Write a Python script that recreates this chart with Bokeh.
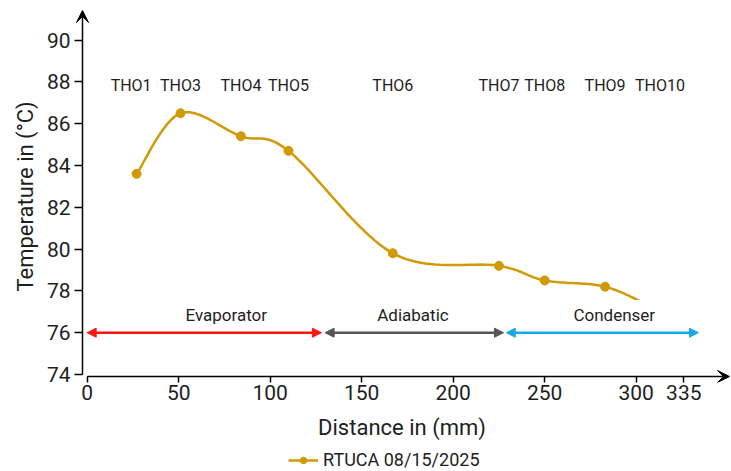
import numpy as np
from bokeh.plotting import figure
from bokeh.layouts import column
from bokeh.models import (Range1d, FixedTicker, Arrow, VeeHead, NormalHead, Label,
                          Legend, LegendItem, ColumnDataSource)
from bokeh.core.properties import value
from bokeh.embed import file_html
from bokeh.resources import INLINE

# ---------------- data ----------------
distance_mm = [27, 51, 84, 110, 167, 225, 250, 283, 309]
temperature_c = [83.6, 86.5, 85.4, 84.7, 79.8, 79.2, 78.5, 78.2, 77.2]
series_name = "RTUCA 08/15/2025"

sensor_names = ["THO1", "THO3", "THO4", "THO5", "THO6", "THO7", "THO8", "THO9", "THO10"]
sensor_label_x = [24, 51, 84, 110, 167, 225, 250, 283, 313]

zone_names = ["Evaporator", "Adiabatic", "Condenser"]
zone_start = [0, 130, 229]
zone_end = [128, 227.5, 334]
zone_label_x = [76, 178, 288]
zone_colors = ["#ff1414", "#555555", "#18a8e8"]

x_tick_values = [0, 50, 100, 150, 200, 250, 300, 326]
x_tick_labels = ["0", "50", "100", "150", "200", "250", "300", "335"]
y_tick_values = [74, 76, 78, 80, 82, 84, 86, 88, 90]

FONT = "Roboto"
GOLD = "#d09a06"
TXT = "#1e1e1e"

# ---------------- figure ----------------
X0, X1 = -6.94, 350.98      # frame extent (x)
Y0, Y1 = 73.617, 91.416     # frame extent (y)
XAX, YAX = -2.57, 73.904    # where the drawn axis lines sit
p = figure(width=731, height=449, x_range=Range1d(X0, X1), y_range=Range1d(Y0, Y1),
           output_backend="svg", toolbar_location=None,
           min_border_left=74, min_border_right=2, min_border_top=10, min_border_bottom=67)
p.outline_line_color = None
p.grid.visible = False
p.background_fill_color = "white"

# axes: Bokeh axes give ticks / labels / titles, lines are drawn as arrows
xa = p.xaxis[0]
xa.ticker = FixedTicker(ticks=x_tick_values)
xa.major_label_overrides = {v: s for v, s in zip(x_tick_values, x_tick_labels)}
xa.minor_tick_line_color = None
xa.major_tick_in = 6
xa.major_tick_out = 0
xa.major_label_standoff = 2
xa.axis_label = "Distance in (mm)"
xa.axis_label_standoff = 12

ya = p.yaxis[0]
ya.ticker = FixedTicker(ticks=y_tick_values)
ya.minor_tick_line_color = None
ya.major_tick_in = 8
ya.major_tick_out = 0
ya.major_label_standoff = 4
ya.axis_label = "Temperature in (\u00b0C)"
ya.axis_label_standoff = 6

for ax in (xa, ya):
    ax.axis_line_color = None
    ax.major_tick_line_color = "black"
    ax.major_tick_line_width = 1.5
    ax.major_label_text_font = FONT
    ax.major_label_text_font_size = "21px"
    ax.major_label_text_color = TXT
    ax.axis_label_text_font = FONT
    ax.axis_label_text_font_size = "22px"
    ax.axis_label_text_font_style = "normal"
    ax.axis_label_text_color = TXT

# axis lines with arrowheads
p.add_layout(Arrow(end=VeeHead(size=12, fill_color="black", line_color="black"),
                   x_start=0, y_start=YAX, x_end=X1, y_end=YAX,
                   line_color="black", line_width=1.5))
p.add_layout(Arrow(end=VeeHead(size=12, fill_color="black", line_color="black"),
                   x_start=XAX, y_start=y_tick_values[0], x_end=XAX, y_end=Y1,
                   line_color="black", line_width=1.5))

# ---------------- smooth curve through data ----------------
def catmull_rom(xs, ys, n=24):
    P = np.column_stack([xs, ys]).astype(float)
    P = np.vstack([P[0], P, P[-1]])
    out = []
    for i in range(1, len(P) - 2):
        p0, p1, p2, p3 = P[i - 1], P[i], P[i + 1], P[i + 2]
        t = np.linspace(0, 1, n, endpoint=(i == len(P) - 3))[:, None]
        seg = 0.5 * ((2 * p1) + (-p0 + p2) * t + (2 * p0 - 5 * p1 + 4 * p2 - p3) * t ** 2
                     + (-p0 + 3 * p1 - 3 * p2 + p3) * t ** 3)
        out.append(seg)
    out = np.vstack(out)
    return out[:, 0], out[:, 1]

cx, cy = catmull_rom(distance_mm, temperature_c)
line_r = p.line(cx, cy, line_color=GOLD, line_width=2.5)
pts_r = p.scatter(distance_mm, temperature_c, size=9, marker="circle",
                  fill_color=GOLD, line_color=GOLD)

# ---------------- sensor names ----------------
src = ColumnDataSource(dict(x=sensor_label_x, y=[87.85] * len(sensor_names), t=sensor_names))
p.text(x="x", y="y", text="t", source=src, text_font=value(FONT), text_font_size="16px",
       text_color=TXT, text_align="center", text_baseline="middle")

# ---------------- zone arrows + labels ----------------
for name, xs, xe, lx, col in zip(zone_names, zone_start, zone_end, zone_label_x, zone_colors):
    p.add_layout(Arrow(start=NormalHead(size=9, fill_color=col, line_color=col),
                       end=NormalHead(size=9, fill_color=col, line_color=col),
                       x_start=xs, y_start=76, x_end=xe, y_end=76,
                       line_color=col, line_width=2.5))
    p.add_layout(Label(x=lx, y=76.85, text=name, text_font=FONT, text_font_size="17px",
                       text_color=TXT, text_align="center", text_baseline="middle",
                       background_fill_color="white", background_fill_alpha=1.0,
                       padding=5))

# ---------------- legend strip (same series, legend only) ----------------
lf = figure(width=731, height=22, x_range=Range1d(-10, -9), y_range=Range1d(0, 1),
            output_backend="svg", toolbar_location=None,
            x_axis_type=None, y_axis_type=None, min_border=0)
lf.outline_line_color = None
lf.grid.visible = False
leg_line = lf.line(distance_mm, temperature_c, line_color=GOLD, line_width=2.5)
leg_pts = lf.scatter(distance_mm, temperature_c, size=9, marker="circle",
                     fill_color=GOLD, line_color=GOLD)
legend = Legend(items=[LegendItem(label=series_name, renderers=[leg_line, leg_pts])],
                location=(214, 1), orientation="horizontal",
                label_text_font=FONT, label_text_font_size="18px", label_text_color=TXT,
                glyph_width=30, glyph_height=16, label_height=16, label_standoff=5,
                border_line_color=None, background_fill_alpha=0,
                margin=0, padding=2, spacing=0)
lf.add_layout(legend, "center")

layout = column(p, lf, spacing=0)
open("out.html", "w").write(file_html(layout, INLINE))
